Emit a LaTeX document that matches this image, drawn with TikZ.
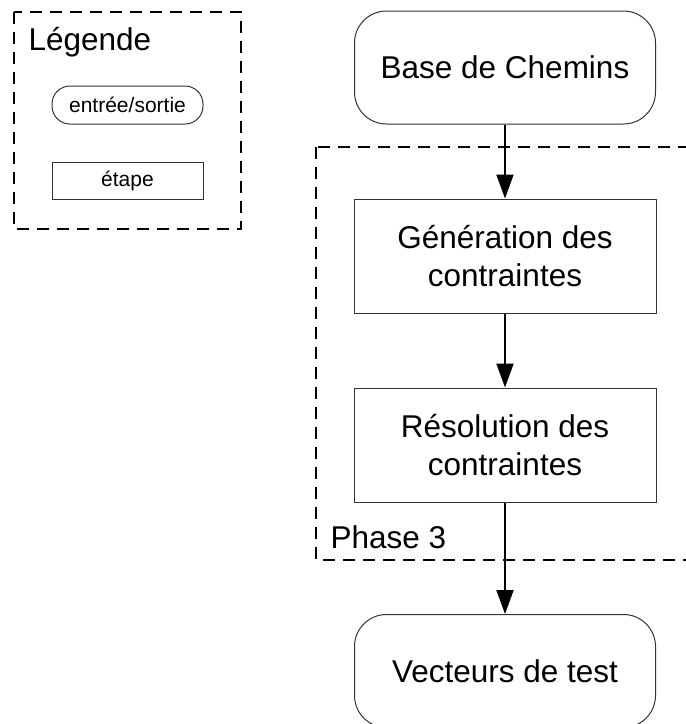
\documentclass[tikz,border=0pt]{standalone}
\usepackage{fontspec}
\setsansfont{Liberation Sans}
\usepackage{tikz}
\usetikzlibrary{arrows.meta, positioning}

\begin{document}
\begin{tikzpicture}[
    x=1pt, y=-1pt,
    every node/.style={font=\sffamily\fontsize{31.5}{37.5}\selectfont},
    io/.style={rectangle, rounded corners=32pt, draw=black!80, line width=1pt, minimum width=301pt, minimum height=113pt, inner sep=0pt, align=center},
    stepbox/.style={rectangle, draw=black!80, line width=1pt, minimum width=302pt, minimum height=114pt, inner sep=0pt, align=center},
    legio/.style={rectangle, rounded corners=18pt, draw=black!80, line width=1pt, minimum width=151pt, minimum height=38pt, inner sep=0pt, font=\sffamily\fontsize{21}{25}\selectfont},
    legstep/.style={rectangle, draw=black!80, line width=1pt, minimum width=151pt, minimum height=37pt, inner sep=0pt, font=\sffamily\fontsize{21}{25}\selectfont},
    groupbox/.style={draw, line width=2pt, dash pattern=on 12pt off 8pt},
    flow/.style={line width=2pt, -{Triangle[length=24pt, width=17pt]}},
]
\useasboundingbox (0,0) rectangle (686,724);
\clip (0,0) rectangle (686,724);
% legend
\draw[groupbox] (14,12) rectangle (241,229);
\node[anchor=base west] (legtitle) at (25,50) {Légende};
\node[legio] (legendio) at (127.5,105) {entrée/sortie};
\node[legstep] (legendstep) at (127.5,180.5) {étape};
% phase 3 group
\draw[groupbox] (316,147) rectangle (700,560);
\node[anchor=base west] (phase) at (327,548) {Phase 3};
% main flow
\node[io] (base) at (505,67.5) {Base de Chemins};
\node[stepbox] (gen) at (505,256) {Génération des\\contraintes};
\node[stepbox] (res) at (505,445) {Résolution des\\contraintes};
\node[io] (vect) at (505,671) {Vecteurs de test};
\draw[flow] (base) -- (gen);
\draw[flow] (gen) -- (res);
\draw[flow] (res) -- (vect);
\end{tikzpicture}
\end{document}
